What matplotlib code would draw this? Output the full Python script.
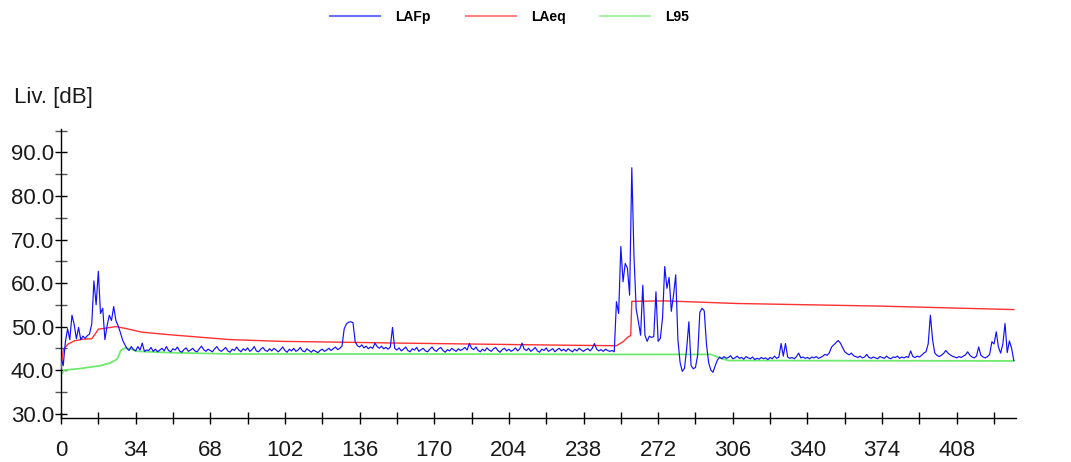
import numpy as np
import matplotlib
matplotlib.use("Agg")
from matplotlib import pyplot as plt
from matplotlib.ticker import MultipleLocator, FormatStrFormatter

plt.rcParams['font.family'] = ['Liberation Sans', 'DejaVu Sans']

# LAFp, one value per second (dB)
lafp = [
    43.0, 41.0, 46.5, 49.5, 47.0, 52.6, 50.5, 47.2, 49.8, 47.0,
    47.8, 47.3, 47.9, 48.3, 50.6, 60.5, 55.0, 62.7, 53.0, 54.2,
    47.0, 50.2, 52.6, 51.4, 54.6, 51.4, 50.2, 48.7, 47.0, 45.9,
    45.0, 44.5, 45.4, 44.7, 44.4, 45.4, 44.6, 46.2, 44.3, 44.6,
    44.5, 45.2, 44.3, 44.8, 44.2, 44.6, 45.0, 44.4, 45.4, 44.5,
    44.2, 44.9, 44.6, 45.3, 44.4, 44.1, 44.7, 45.1, 44.3, 44.6,
    45.0, 44.4, 44.2, 44.9, 45.5, 44.7, 44.3, 44.8, 44.5, 44.2,
    44.9, 45.4, 44.6, 44.3, 44.7, 45.2, 44.4, 44.1, 44.8, 44.5,
    45.3, 44.6, 44.2, 44.9, 44.5, 45.1, 44.3, 44.7, 45.4, 44.4,
    44.2, 44.8, 45.2, 44.5, 44.3, 44.9, 44.4, 45.0, 44.6, 44.2,
    44.7, 45.3, 44.5, 44.1, 44.8, 44.4, 45.0, 44.3, 44.6, 45.2,
    44.4, 44.2, 44.9, 44.5, 44.1, 44.6, 44.3, 44.0, 44.5, 44.8,
    44.3, 44.6, 45.0, 44.5, 44.9, 45.3, 44.7, 45.0, 45.5, 49.5,
    50.6, 51.0, 51.1, 50.9, 46.5, 45.6, 45.3, 45.8, 45.1, 45.5,
    44.9, 45.3, 45.0, 46.2, 45.4, 45.0, 45.5, 44.9, 45.2, 44.8,
    45.3, 49.8, 45.0, 44.6, 45.1, 44.4, 44.8, 45.3, 44.5, 44.2,
    44.9, 44.6, 45.2, 44.3, 44.7, 45.0, 44.4, 44.2, 44.8, 45.3,
    44.6, 44.3, 44.9, 45.2, 44.5, 44.1, 44.7, 44.4, 45.0, 44.6,
    44.3, 44.9, 44.5, 44.8, 45.2, 44.6, 46.1, 45.0, 44.7, 45.3,
    44.5, 44.2, 44.8, 44.4, 45.1, 44.6, 44.3, 44.9, 45.2, 44.5,
    44.1, 44.7, 45.0, 44.4, 44.8, 44.3, 44.6, 45.1, 44.4, 44.9,
    46.2, 44.8, 44.5, 45.0, 44.3, 44.7, 45.2, 44.4, 44.1, 44.8,
    44.5, 45.1, 44.3, 44.6, 44.9, 44.2, 44.7, 45.0, 44.4, 44.8,
    44.3, 44.9, 44.5, 44.2, 44.8, 44.4, 45.0, 44.6, 44.3, 44.7,
    44.9, 44.4, 45.0, 46.1, 44.8, 44.4, 44.7, 44.3, 44.8, 44.5,
    44.3, 44.5, 44.2, 55.7, 53.0, 68.4, 60.3, 64.5, 63.4, 57.2,
    86.5, 66.0, 54.0, 51.1, 48.0, 59.5, 48.0, 46.6, 47.8, 47.5,
    47.7, 58.0, 46.6, 47.3, 52.0, 63.8, 58.8, 61.3, 53.5, 57.2,
    61.9, 47.0, 41.7, 39.7, 40.4, 45.0, 51.1, 41.0, 40.3, 40.6,
    43.5, 53.3, 54.2, 53.6, 46.0, 41.7, 40.0, 39.5, 41.0, 42.3,
    43.0, 42.6, 43.1, 42.7, 42.9, 43.3, 42.6, 42.8, 43.2, 42.7,
    42.9, 42.5, 43.1, 42.8, 42.6, 43.0, 42.4, 42.7, 42.5, 42.9,
    42.6, 42.8, 42.4, 42.9, 42.6, 43.2, 42.7, 43.0, 46.1, 43.2,
    46.1, 43.0, 42.7, 42.9, 42.6, 43.1, 43.9, 42.8, 43.0, 42.7,
    42.9, 42.6, 43.0, 42.8, 43.1, 42.7, 42.9, 43.2, 43.6, 43.4,
    44.0, 45.3, 45.8, 46.3, 46.8, 46.2, 45.2, 44.2, 43.8, 43.5,
    43.9, 43.3, 43.1, 42.9, 43.2, 42.8, 43.0, 43.6, 42.9, 42.7,
    43.0, 42.8, 42.6, 43.1, 42.9, 42.7, 43.2, 42.8, 42.6, 43.0,
    42.9, 43.2, 42.7, 43.0, 42.8, 43.1, 42.9, 44.4, 43.1, 42.9,
    43.2, 43.0, 43.4, 43.9, 44.2, 46.0, 52.6, 47.0, 43.9, 43.4,
    43.1, 43.4, 43.8, 44.5, 43.9, 43.5, 43.2, 43.0, 42.8, 43.1,
    42.9, 43.2, 43.5, 44.2, 43.4, 43.0, 42.8, 43.2, 45.3, 43.4,
    43.0, 42.8, 43.1, 43.6, 46.5, 46.0, 48.8, 45.3, 43.9, 46.0,
    50.7, 44.0, 46.7, 45.0, 42.2,
]
t_lafp = np.arange(len(lafp))

# running LAeq
laeq_t = [0, 1, 3, 6, 10, 14, 15, 16, 17, 20, 25, 30, 37, 50, 77, 100,
          128, 154, 200, 232, 253, 256, 258.5, 259.5, 260, 275, 308, 373, 434]
laeq = [40.3, 44.6, 45.9, 46.7, 47.1, 47.2, 47.9, 48.6, 49.4, 49.6, 50.0, 49.5,
        48.7, 48.1, 47.0, 46.6, 46.4, 46.2, 45.9, 45.7, 45.6, 46.5, 47.7, 47.9,
        55.8, 55.9, 55.3, 54.7, 53.9]

# running L95
l95_t = [0, 1.5, 8, 17.8, 22.3, 25.5, 26.3, 27.2, 29.2, 32, 35, 50, 77,
         150, 250, 296, 300, 304, 434]
l95 = [39.0, 40.0, 40.3, 41.0, 41.6, 42.5, 43.3, 44.5, 45.1, 44.8, 44.3, 44.0,
       43.7, 43.7, 43.6, 43.6, 42.8, 42.2, 42.1]

fig = plt.figure(figsize=(10.71, 4.62), dpi=100)
ax = fig.add_axes([61 / 1071, 44.5 / 462, 955 / 1071, 288.5 / 462])

l1, = ax.plot(t_lafp, lafp, color='#1010ff', lw=0.85, zorder=4)
l2, = ax.plot(laeq_t, laeq, color='#ff3030', lw=1.0, zorder=3)
l3, = ax.plot(l95_t, l95, color='#6fea6f', lw=1.3, zorder=2)

ax.set_xlim(0, 435)
ax.set_ylim(29.1, 95.4)
ax.xaxis.set_major_locator(MultipleLocator(34))
ax.xaxis.set_minor_locator(MultipleLocator(17))
ax.yaxis.set_major_locator(MultipleLocator(10))
ax.yaxis.set_minor_locator(MultipleLocator(5))
ax.yaxis.set_major_formatter(FormatStrFormatter('%.1f'))

for s in ['top', 'right']:
    ax.spines[s].set_visible(False)
for s in ['left', 'bottom']:
    ax.spines[s].set_linewidth(1.0)
    ax.spines[s].set_color('black')

ax.tick_params(which='both', direction='inout', length=8, width=1, colors='black',
               labelsize=16, labelcolor='#1a1a1a')
ax.tick_params(axis='y', which='minor', color='#555555')
ax.tick_params(axis='y', pad=1)
ax.tick_params(axis='x', pad=12)

fig.text(14 / 1071, 1 - 97 / 462, 'Liv. [dB]', fontsize=16, va='center', ha='left',
         color='#1a1a1a')

leg = fig.legend([l1, l2, l3], ['LAFp', 'LAeq', 'L95'], loc='center',
                 bbox_to_anchor=(0.476, 1 - 17 / 462), ncol=3, frameon=False,
                 handlelength=3.6, handletextpad=1.1, columnspacing=2.5,
                 prop={'weight': 'bold', 'size': 10})
for h in leg.get_lines():
    h.set_alpha(0.6)
    h.set_linewidth(1.5)

fig.savefig('out.png', dpi=100)
